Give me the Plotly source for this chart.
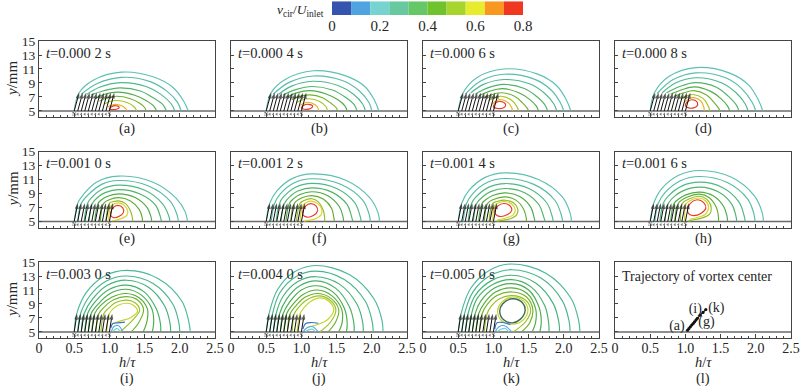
import plotly.graph_objects as go

# ---- data -----------------------------------------------------------------
MAGNET_FEET = [0.50, 0.55, 0.60, 0.65, 0.70, 0.75, 0.80, 0.85, 0.90, 0.95, 1.00]
ARROW_TOP = 7.6
ARROW_LEAN = [0.07, 0.07, 0.07, 0.07, 0.05, 0.05, 0.05, 0.05, 0.04, 0.04, 0.04]
TIMES = ["0.000 2", "0.000 4", "0.000 6", "0.000 8", "0.001 0", "0.001 2",
         "0.001 4", "0.001 6", "0.003 0", "0.004 0", "0.005 0"]
PANEL_LABELS = ["(a)", "(b)", "(c)", "(d)", "(e)", "(f)", "(g)", "(h)", "(i)", "(j)", "(k)", "(l)"]
X_TICKS = [0, 0.5, 1.0, 1.5, 2.0, 2.5]
X_TICK_TEXT = ["0", "0.5", "1.0", "1.5", "2.0", "2.5"]
Y_TICKS = [5, 7, 9, 11, 13, 15]

BAR_STARTS = [0, 0.08, 0.16, 0.24, 0.32, 0.40, 0.48, 0.56, 0.64, 0.72]
BAR_WIDTHS = [0.08] * 10
BAR_COLORS = ["#3454ae", "#4fa3de", "#76d3d0", "#68c8a0", "#66c766",
              "#6fc42e", "#a6d62e", "#e8ec2e", "#f89820", "#f03820"]
BAR_TICKS = [0, 0.2, 0.4, 0.6, 0.8]

TRAJ_X = [1.03, 1.05, 1.07, 1.09, 1.11, 1.13, 1.15, 1.17, 1.21, 1.25, 1.29]
TRAJ_Y = [5.25, 5.5, 5.75, 6.0, 6.2, 6.45, 6.7, 6.95, 7.4, 7.8, 8.2]

ROW1_COLORS = ["#5cc0b4", "#58bda8", "#4fb890", "#4fb46a", "#52ac48", "#70b32e", "#a8c428", "#e8b020", "#e83828"]
ROW2_COLORS = ["#5cc0b0", "#55bca0", "#4fb888", "#4fb468", "#4fac48", "#62ae30", "#8fbc2a", "#d8d428", "#e83828"]
ROW3_COLORS = ["#4bb89c", "#48b68c", "#45b27c", "#46b066", "#4aac50", "#56ac3c", "#70b42c", "#98c02a",
               "#c4d428", "#3a70c8", "#58a8e0", "#70d0d0"]

PANEL_A = [
    [(0.5,5),(0.57,7.6),(0.77,9.4),(1.17,10.55),(1.62,9.9),(1.9,8.4),(2.05,6.5),(2.12,5)],
    [(0.6,7.4),(0.82,8.9),(1.17,9.8),(1.58,9.2),(1.82,7.8),(1.97,6.2),(2.02,5)],
    [(0.68,7.4),(0.86,8.4),(1.16,9.05),(1.52,8.5),(1.74,7.3),(1.88,6),(1.93,5)],
    [(0.74,7.3),(0.92,7.9),(1.15,8.3),(1.44,7.85),(1.62,6.9),(1.76,5.9),(1.81,5)],
    [(0.8,6.8),(0.92,7.35),(1.12,7.7),(1.36,7.25),(1.52,6.5),(1.63,5.7),(1.67,5)],
    [(0.86,6.4),(0.96,6.85),(1.1,7.1),(1.3,6.75),(1.43,6.1),(1.5,5.5),(1.52,5)],
    [(0.93,6),(1.0,6.35),(1.1,6.5),(1.25,6.2),(1.35,5.6),(1.39,5)],
    [(0.98,5.6),(1.08,5.95),(1.18,5.7),(1.24,5.25),(1.25,5)],
    [(1.0,5.3),(1.04,5.65),(1.09,5.75),(1.14,5.5),(1.1,5.25),(1.03,5.2),(1.0,5.3)],
]
PANEL_B = [
    [(0.5,5),(0.57,7.6),(0.77,9.5),(1.17,10.75),(1.62,10.05),(1.9,8.5),(2.04,6.5),(2.1,5)],
    [(0.6,7.4),(0.82,9.05),(1.17,10),(1.58,9.35),(1.82,7.9),(1.96,6.2),(2.0,5)],
    [(0.68,7.4),(0.86,8.55),(1.16,9.25),(1.52,8.65),(1.74,7.4),(1.87,6),(1.91,5)],
    [(0.74,7.3),(0.92,8.05),(1.15,8.5),(1.44,8),(1.62,7),(1.75,5.9),(1.79,5)],
    [(0.8,7),(0.92,7.55),(1.13,7.9),(1.36,7.4),(1.52,6.6),(1.62,5.7),(1.65,5)],
    [(0.86,6.6),(0.96,7.05),(1.12,7.3),(1.3,6.9),(1.42,6.1),(1.5,5.4),(1.51,5)],
    [(0.93,6.2),(1.0,6.55),(1.11,6.75),(1.26,6.35),(1.35,5.6),(1.37,5)],
    [(0.98,5.8),(1.09,6.25),(1.2,5.85),(1.24,5.3),(1.24,5)],
    [(1.0,5.4),(1.04,5.85),(1.1,5.95),(1.16,5.7),(1.13,5.35),(1.04,5.25),(1.0,5.4)],
]
PANEL_C = [
    [(0.5,5),(0.57,7.6),(0.77,9.8),(1.15,11),(1.62,10.3),(1.9,8.6),(2.04,6.5),(2.1,5)],
    [(0.6,7.4),(0.82,9.3),(1.15,10.25),(1.58,9.55),(1.82,8),(1.95,6.2),(2.0,5)],
    [(0.68,7.6),(0.86,8.8),(1.15,9.5),(1.52,8.85),(1.73,7.5),(1.86,6),(1.9,5)],
    [(0.74,7.4),(0.92,8.3),(1.14,8.8),(1.44,8.2),(1.61,7.1),(1.73,5.9),(1.77,5)],
    [(0.8,7.2),(0.94,7.8),(1.13,8.2),(1.36,7.6),(1.51,6.7),(1.61,5.7),(1.64,5)],
    [(0.86,6.9),(0.98,7.35),(1.12,7.6),(1.3,7.1),(1.41,6.2),(1.48,5.4),(1.5,5)],
    [(0.93,6.5),(1.02,6.9),(1.11,7.1),(1.25,6.6),(1.33,5.7),(1.36,5)],
    [(0.98,6),(1.05,6.5),(1.12,6.6),(1.21,6.2),(1.26,5.5),(1.27,5)],
    [(1.0,5.6),(1.04,6.2),(1.1,6.35),(1.17,6),(1.16,5.55),(1.06,5.35),(1.0,5.6)],
]
PANEL_D = [
    [(0.5,5),(0.56,7.6),(0.77,9.95),(1.15,11.2),(1.62,10.45),(1.9,8.7),(2.04,6.5),(2.1,5)],
    [(0.6,7.5),(0.82,9.45),(1.15,10.45),(1.58,9.7),(1.81,8.1),(1.95,6.2),(2,5)],
    [(0.67,7.6),(0.86,9),(1.15,9.75),(1.52,9),(1.72,7.6),(1.85,6),(1.89,5)],
    [(0.73,7.6),(0.92,8.5),(1.14,9.05),(1.44,8.4),(1.6,7.2),(1.72,5.9),(1.76,5)],
    [(0.79,7.4),(0.94,8),(1.13,8.45),(1.36,7.8),(1.5,6.8),(1.6,5.7),(1.63,5)],
    [(0.85,7.1),(0.98,7.6),(1.12,7.9),(1.3,7.3),(1.4,6.3),(1.47,5.4),(1.49,5)],
    [(0.92,6.7),(1.02,7.15),(1.11,7.35),(1.25,6.8),(1.32,5.8),(1.35,5)],
    [(0.98,6.2),(1.05,6.75),(1.12,6.9),(1.22,6.4),(1.26,5.6),(1.27,5)],
    [(1.0,5.8),(1.04,6.4),(1.1,6.6),(1.17,6.2),(1.16,5.65),(1.06,5.4),(1.0,5.8)],
]
PANEL_E = [
    [(0.5,5),(0.55,7.6),(0.584,8.24),(0.815,10.61),(1.13,11.48),(1.62,10.61),(1.95,8.3),(2.08,6.3),(2.11,5)],
    [(0.55,5),(0.6,7.6),(0.693,8.76),(0.889,10.3),(1.13,10.85),(1.555,10.07),(1.86,7.93),(1.96,6.0),(1.98,5)],
    [(0.64,5),(0.69,7.6),(0.74,8.34),(0.914,9.71),(1.13,10.2),(1.495,9.5),(1.75,7.6),(1.84,5.9),(1.86,5)],
    [(0.71,5),(0.76,7.6),(0.84,8.49),(0.94,9.12),(1.13,9.55),(1.435,8.94),(1.66,7.28),(1.72,5.8),(1.74,5)],
    [(0.79,5),(0.84,7.6),(0.88,8.03),(0.965,8.58),(1.13,8.95),(1.365,8.42),(1.537,6.98),(1.59,5.7),(1.6,5)],
    [(0.87,5),(0.92,7.6),(0.99,8.08),(1.13,8.4),(1.3,7.94),(1.425,6.7),(1.465,5.6),(1.47,5)],
    [(0.95,5),(1.0,7.6),(1.06,7.85),(1.13,7.95),(1.23,7.55),(1.3,6.5),(1.327,5.5),(1.33,5)],
    [(0.99,5),(1.02,7.2),(1.08,7.55),(1.13,7.65),(1.21,7.3),(1.26,6.5),(1.25,5.9),(1.18,5.45),(1.1,5.2),(1.04,5.1)],
    [(1.02,6.3),(1.05,6.95),(1.12,7.3),(1.19,6.95),(1.2,6.3),(1.14,5.75),(1.06,5.55),(1.02,5.85),(1.02,6.3)],
]
PANEL_F = [
    [(0.5,5),(0.55,7.6),(0.652,9.37),(0.875,11.16),(1.15,11.8),(1.63,10.89),(1.97,8.4),(2.09,6.2),(2.11,5)],
    [(0.57,5),(0.62,7.6),(0.698,8.92),(0.9,10.53),(1.15,11.1),(1.565,10.28),(1.87,8.05),(1.96,6.1),(1.98,5)],
    [(0.64,5),(0.69,7.6),(0.744,8.5),(0.926,9.94),(1.15,10.45),(1.5,9.72),(1.755,7.72),(1.83,5.9),(1.85,5)],
    [(0.71,5),(0.76,7.6),(0.85,8.68),(0.95,9.35),(1.15,9.8),(1.44,9.16),(1.65,7.4),(1.71,5.8),(1.73,5)],
    [(0.78,5),(0.83,7.6),(0.89,8.26),(0.98,8.85),(1.15,9.25),(1.375,8.68),(1.54,7.1),(1.59,5.7),(1.6,5)],
    [(0.85,5),(0.9,7.6),(1.0,8.35),(1.15,8.7),(1.31,8.2),(1.43,6.85),(1.46,5.6),(1.47,5)],
    [(0.93,5),(0.98,7.6),(1.03,7.95),(1.15,8.25),(1.24,7.8),(1.31,6.6),(1.33,5.6),(1.33,5)],
    [(0.98,5),(1.02,7.3),(1.07,7.7),(1.14,7.9),(1.23,7.55),(1.29,6.7),(1.28,5.95),(1.2,5.4),(1.1,5.15),(1.04,5.05)],
    [(1.02,6.5),(1.06,7.2),(1.13,7.55),(1.21,7.2),(1.23,6.5),(1.17,5.85),(1.08,5.62),(1.02,5.95),(1.02,6.5)],
]
PANEL_G = [
    [(0.5,5),(0.55,7.6),(0.656,9.47),(0.884,11.3),(1.165,11.95),(1.64,11.0),(1.98,8.5),(2.09,6.2),(2.11,5)],
    [(0.57,5),(0.62,7.6),(0.705,8.95),(0.91,10.56),(1.165,11.14),(1.575,10.3),(1.87,8.07),(1.96,6.1),(1.985,5)],
    [(0.64,5),(0.69,7.6),(0.75,8.48),(0.937,9.91),(1.165,10.42),(1.51,9.69),(1.755,7.71),(1.83,5.9),(1.85,5)],
    [(0.715,5),(0.765,7.6),(0.857,8.6),(0.96,9.27),(1.165,9.71),(1.45,9.08),(1.65,7.35),(1.71,5.8),(1.735,5)],
    [(0.79,5),(0.84,7.6),(0.895,8.13),(0.99,8.7),(1.165,9.09),(1.38,8.54),(1.53,7.05),(1.575,5.7),(1.59,5)],
    [(0.87,5),(0.92,7.6),(1.0,8.14),(1.165,8.52),(1.32,8.05),(1.43,6.76),(1.465,5.6),(1.47,5)],
    [(0.94,5),(0.99,7.6),(1.05,7.85),(1.165,8.04),(1.28,7.7),(1.345,6.8),(1.33,5.95),(1.24,5.4),(1.12,5.15),(1.05,5.05)],
    [(0.99,5),(1.02,7.3),(1.07,7.65),(1.16,7.85),(1.26,7.5),(1.31,6.7),(1.28,5.95),(1.18,5.5),(1.05,5.2)],
    [(1.02,6.6),(1.06,7.2),(1.15,7.57),(1.24,7.2),(1.26,6.6),(1.2,6),(1.09,5.72),(1.03,6.05),(1.02,6.6)],
]
PANEL_H = [
    [(0.5,5),(0.55,7.6),(0.664,9.69),(0.904,11.6),(1.2,12.29),(1.655,11.31),(1.98,8.65),(2.09,6.3),(2.11,5)],
    [(0.565,5),(0.615,7.6),(0.71,9.13),(0.93,10.83),(1.2,11.43),(1.595,10.57),(1.885,8.2),(1.97,6.2),(1.99,5)],
    [(0.636,5),(0.686,7.6),(0.755,8.61),(0.955,10.09),(1.2,10.62),(1.525,9.87),(1.76,7.81),(1.83,6),(1.85,5)],
    [(0.71,5),(0.76,7.6),(0.865,8.75),(0.98,9.44),(1.2,9.9),(1.465,9.24),(1.66,7.45),(1.715,5.9),(1.73,5)],
    [(0.79,5),(0.84,7.6),(0.905,8.21),(1.005,8.8),(1.2,9.19),(1.4,8.63),(1.545,7.1),(1.59,5.8),(1.6,5)],
    [(0.85,5),(0.9,7.6),(1.03,8.5),(1.2,8.9),(1.34,8.4),(1.44,7.0),(1.47,5.7),(1.47,5)],
    [(0.93,5),(0.96,7.6),(1.06,8.25),(1.19,8.6),(1.3,8.2),(1.365,7.1),(1.34,6),(1.22,5.45),(1.1,5.2),(1.04,5.05)],
    [(0.99,5),(1.01,7.5),(1.08,8.05),(1.18,8.35),(1.28,8),(1.33,7),(1.28,6),(1.18,5.6),(1.06,5.3)],
    [(1.03,6.8),(1.07,7.6),(1.17,8.1),(1.26,7.7),(1.29,6.9),(1.22,6.15),(1.1,5.85),(1.04,6.2),(1.03,6.8)],
]
PANEL_I = [
    [(0.5,5),(0.535,7.6),(0.673,10.66),(0.927,12.97),(1.24,13.8),(1.695,12.62),(2.03,9.4),(2.125,6.6),(2.15,5)],
    [(0.55,5),(0.59,7.6),(0.72,10.14),(0.95,12.25),(1.24,13),(1.62,11.93),(1.9,9),(1.985,6.4),(2.0,5)],
    [(0.6,5),(0.64,7.6),(0.765,9.76),(0.978,11.7),(1.24,12.4),(1.555,11.4),(1.785,8.7),(1.86,6.3),(1.87,5)],
    [(0.65,5),(0.69,7.6),(0.796,9.3),(0.995,11.07),(1.24,11.7),(1.485,10.8),(1.664,8.35),(1.725,6.2),(1.73,5)],
    [(0.7,5),(0.74,7.6),(0.834,8.92),(1.016,10.53),(1.24,11.1),(1.45,10.3),(1.6,8.4),(1.63,6.6),(1.61,5)],
    [(0.75,5),(0.79,7.6),(0.875,8.8),(1.04,10),(1.24,10.5),(1.42,9.9),(1.54,8.3),(1.535,6.6),(1.48,5)],
    [(0.81,5),(0.85,7.6),(0.93,8.6),(1.06,9.6),(1.25,10.05),(1.41,9.5),(1.485,8.2),(1.42,6.4),(1.31,5)],
    [(0.88,5),(0.92,7.6),(0.99,8.4),(1.09,9.2),(1.25,9.55),(1.37,9.15),(1.43,8.1),(1.33,6.7),(1.15,5)],
    [(0.96,5),(1.0,7.6),(1.05,8.3),(1.14,8.9),(1.26,9.1),(1.35,8.75),(1.4,7.95),(1.3,7.05),(1.15,6.55),(1.05,6.2)],
    [(1.02,5.6),(1.05,6.2),(1.12,6.3),(1.22,6.4)],
    [(1.03,5.1),(1.06,5.75),(1.13,5.9),(1.19,5)],
    [(1.05,5.05),(1.08,5.4),(1.12,5.45),(1.15,5)],
]
PANEL_J = [
    [(0.5,5),(0.54,7.6),(0.664,11.1),(0.904,13.6),(1.2,14.5),(1.68,13.2),(2.03,9.75),(2.145,6.65),(2.16,5)],
    [(0.55,5),(0.59,7.6),(0.694,10.6),(0.92,12.9),(1.2,13.7),(1.61,12.5),(1.91,9.35),(2.005,6.5),(2.02,5)],
    [(0.6,5),(0.64,7.6),(0.74,10.1),(0.945,12.16),(1.2,12.9),(1.54,11.84),(1.79,8.95),(1.87,6.4),(1.88,5)],
    [(0.65,5),(0.69,7.6),(0.79,9.7),(0.977,11.6),(1.21,12.3),(1.48,11.3),(1.68,8.65),(1.745,6.3),(1.75,5)],
    [(0.7,5),(0.74,7.6),(0.83,9.24),(1.0,11),(1.22,11.6),(1.45,10.7),(1.61,8.4),(1.65,6.4),(1.64,5)],
    [(0.75,5),(0.79,7.6),(0.875,8.9),(1.03,10.4),(1.23,11),(1.43,10.2),(1.57,8.3),(1.58,6.4),(1.53,5)],
    [(0.8,5),(0.84,7.6),(0.92,8.7),(1.05,9.95),(1.24,10.5),(1.42,9.8),(1.53,8.2),(1.49,6.5),(1.38,5)],
    [(0.87,5),(0.9,7.6),(0.96,8.5),(1.08,9.6),(1.25,10.15),(1.4,9.6),(1.49,8.2),(1.42,6.5),(1.26,5)],
    [(0.94,5),(0.98,7.6),(1.04,8.5),(1.13,9.35),(1.26,9.87),(1.39,9.4),(1.46,8.15),(1.37,6.75),(1.24,6.1),(1.1,5.7)],
    [(1.02,5.4),(1.06,6.2),(1.14,6.35),(1.24,6.25)],
    [(1.03,5.1),(1.08,5.6),(1.16,5.75),(1.24,5)],
    [(1.06,5.05),(1.1,5.3),(1.16,5.4),(1.2,5)],
]
PANEL_K = [
    [(0.5,5),(0.54,7.6),(0.678,11.25),(0.94,13.8),(1.26,14.72),(1.745,13.4),(2.1,9.86),(2.21,6.7),(2.23,5)],
    [(0.55,5),(0.59,7.6),(0.708,10.7),(0.955,13.06),(1.26,13.9),(1.675,12.7),(1.98,9.45),(2.075,6.55),(2.09,5)],
    [(0.6,5),(0.64,7.6),(0.74,10.2),(0.972,12.34),(1.26,13.1),(1.6,12),(1.85,9.05),(1.93,6.4),(1.94,5)],
    [(0.65,5),(0.69,7.6),(0.77,9.8),(0.99,11.78),(1.26,12.48),(1.53,11.48),(1.73,8.74),(1.785,6.3),(1.79,5)],
    [(0.7,5),(0.74,7.6),(0.82,9.4),(1.01,11.25),(1.26,11.9),(1.5,11),(1.65,8.5),(1.68,6.4),(1.66,5)],
    [(0.75,5),(0.79,7.6),(0.87,9.1),(1.03,10.7),(1.26,11.3),(1.48,10.5),(1.6,8.3),(1.6,6.4),(1.55,5)],
    [(0.8,5),(0.84,7.6),(0.91,8.9),(1.05,10.2),(1.27,10.72),(1.47,10),(1.56,8.2),(1.52,6.4),(1.4,5)],
    [(0.87,5),(0.91,7.6),(0.97,8.7),(1.08,9.7),(1.27,10.2),(1.45,9.6),(1.53,8.1),(1.46,6.5),(1.28,5)],
    [(1.06,7.9),(1.11,9.15),(1.27,10),(1.43,9.4),(1.49,8),(1.41,6.6),(1.27,6.1),(1.13,6.5),(1.06,7.9)],
    [(1.02,5.4),(1.05,6.3),(1.13,6.35),(1.24,6.05)],
    [(1.03,5.1),(1.08,5.75),(1.16,5.9),(1.26,5)],
    [(1.06,5.05),(1.1,5.35),(1.17,5.5),(1.22,5)],
]
RING_K = [(1.09,7.9),(1.13,9),(1.27,9.75),(1.41,9.2),(1.45,8),(1.38,6.8),(1.27,6.3),(1.15,6.7),(1.09,7.9)]

PANELS = [PANEL_A, PANEL_B, PANEL_C, PANEL_D, PANEL_E, PANEL_F,
          PANEL_G, PANEL_H, PANEL_I, PANEL_J, PANEL_K]
ARC_COLORS = [ROW1_COLORS] * 4 + [ROW2_COLORS] * 4 + [ROW3_COLORS] * 3

# ---- layout (pixels of the 800x386 page) -----------------------------------
W, H = 800, 386
LEFTS = [39, 231, 423, 615]
TOPS = [41, 151.5, 262]
PW, PH = 176, 76
YMIN, YMAX = 4.14, 15.0
INK = "#262626"
FONT = "Liberation Serif"


def fx(px):
    return px / W


def fy(py):
    return 1 - py / H


fig = go.Figure()
layout = {}
annotations = []


def note(px, py, text, size=13.5, xanchor="center", textangle=0):
    annotations.append(dict(xref="paper", yref="paper", x=fx(px), y=fy(py), text=text,
                            showarrow=False, xanchor=xanchor, yanchor="middle",
                            textangle=textangle, font=dict(family=FONT, size=size, color=INK)))


def curve(xa, ya, pts, color, width=1.15):
    xs, ys = zip(*pts)
    fig.add_trace(go.Scatter(x=xs, y=ys, mode="lines", xaxis=xa, yaxis=ya,
                             line=dict(color=color, width=width, shape="spline", smoothing=1.0)))


for i in range(12):
    row, col = i // 4, i % 4
    left, top = LEFTS[col], TOPS[row]
    sfx = "" if i == 0 else str(i + 1)
    layout["xaxis" + sfx] = dict(
        domain=[fx(left), fx(left + PW)], range=[0, 2.5], anchor="y" + sfx,
        showgrid=False, zeroline=False, showline=True, mirror=True, linecolor="#444", linewidth=1,
        tickmode="array", tickvals=X_TICKS, ticktext=X_TICK_TEXT,
        showticklabels=row == 2, ticks="inside", ticklen=4, tickcolor="#444", tickwidth=1,
        minor=dict(dtick=0.1, ticks="inside", ticklen=2, tickcolor="#444", tickwidth=1, showgrid=False),
        tickfont=dict(family=FONT, size=14, color=INK), ticklabelstandoff=-3, automargin=False)
    layout["yaxis" + sfx] = dict(
        domain=[fy(top + PH), fy(top)], range=[YMIN, YMAX], anchor="x" + sfx,
        showgrid=False, zeroline=False, showline=True, mirror=True, linecolor="#444", linewidth=1,
        tickmode="array", tickvals=Y_TICKS, showticklabels=col == 0,
        ticks="inside", ticklen=3, tickcolor="#444", tickwidth=1,
        tickfont=dict(family=FONT, size=13.5, color=INK), automargin=False)
    xa, ya = "x" + sfx, "y" + sfx

    fig.add_trace(go.Scatter(x=[0, 2.5], y=[5, 5], mode="lines", xaxis=xa, yaxis=ya,
                             line=dict(color="#6a6a6a", width=1.6)))
    if i < 11:
        for pts, color in zip(PANELS[i], ARC_COLORS[i]):
            curve(xa, ya, pts, color)
        if i == 10:
            curve(xa, ya, RING_K, "#3a6b58", 1.4)
        ax, ay, sizes = [], [], []
        for foot in MAGNET_FEET:
            ax += [foot, foot + ARROW_LEAN[i], None]
            ay += [5, ARROW_TOP, None]
            sizes += [0, 6, 0]
        fig.add_trace(go.Scatter(x=ax, y=ay, mode="lines+markers", xaxis=xa, yaxis=ya,
                                 line=dict(color="#111", width=1),
                                 marker=dict(symbol="arrow", angleref="previous", size=sizes,
                                             color="#111", line=dict(width=0))))
        fig.add_trace(go.Scatter(x=MAGNET_FEET[1:-1], y=[4.55] * 9, mode="markers", xaxis=xa, yaxis=ya,
                                 marker=dict(symbol="triangle-left", size=3, color="#777")))
        fig.add_trace(go.Scatter(x=[0.5, 1.0], y=[4.55, 4.55], mode="text", text=["N", "S"], xaxis=xa, yaxis=ya,
                                 textfont=dict(family=FONT, size=6, color="#333")))
        note(left + 5, top + 11.5, "<i>t</i>=" + TIMES[i] + " s", size=14.5, xanchor="left")
    else:
        fig.add_trace(go.Scatter(x=TRAJ_X, y=TRAJ_Y, mode="lines+markers", xaxis=xa, yaxis=ya,
                                 line=dict(color="#111", width=1.2),
                                 marker=dict(symbol="circle", size=3.2, color="#111")))
        fig.add_trace(go.Scatter(x=[0.88, 1.14, 1.44, 1.30], y=[5.85, 8.2, 8.35, 6.4], mode="text",
                                 text=["(a)", "(i)", "(k)", "(g)"], xaxis=xa, yaxis=ya,
                                 textfont=dict(family=FONT, size=14, color=INK)))
        note(left + 5, top + 14, "Trajectory of vortex center", size=14, xanchor="left")
    note(left + PW / 2, top + 87 if row < 2 else 378, PANEL_LABELS[i], size=14.5)
    if row == 2:
        note(left + PW / 2, 361.5, "<i>h</i>/<i>τ</i>", size=14.5)

for row in range(3):
    note(12, TOPS[row] + 38, "<i>y</i>/mm", size=15, textangle=-90)

layout["xaxis13"] = dict(domain=[fx(332), fx(523)], range=[0, 0.8], anchor="y13", showgrid=False, zeroline=False,
                         showline=False, tickmode="array", tickvals=BAR_TICKS, ticktext=["0", "0.2", "0.4", "0.6", "0.8"],
                         ticks="", tickfont=dict(family=FONT, size=15, color=INK), automargin=False)
layout["yaxis13"] = dict(domain=[fy(15), fy(1.3)], range=[-0.5, 0.5], anchor="x13", showgrid=False, zeroline=False,
                         showline=False, showticklabels=False, ticks="", automargin=False)
fig.add_trace(go.Bar(x=BAR_WIDTHS, y=[0] * 10, base=BAR_STARTS, orientation="h", width=1,
                     marker=dict(color=BAR_COLORS, line=dict(width=0)), xaxis="x13", yaxis="y13"))
note(326, 11, "<i>v</i><sub>cir</sub>/<i>U</i><sub>inlet</sub>", size=13.5, xanchor="right")

fig.update_layout(width=W, height=H, margin=dict(l=0, r=0, t=0, b=0, pad=0, autoexpand=False), autosize=False,
                  paper_bgcolor="white", plot_bgcolor="white", showlegend=False, hovermode=False,
                  annotations=annotations, **layout)
fig.write_html("out.html", config={"displayModeBar": False},
               post_script="document.body.style.margin='0';document.body.style.overflow='hidden';")
